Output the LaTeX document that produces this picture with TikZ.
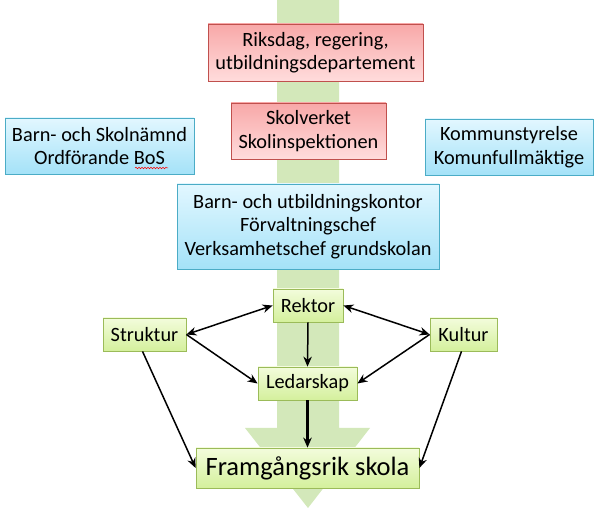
\documentclass[tikz,border=0pt]{standalone}
\usepackage{fontspec}
\setmainfont{Carlito}
\usetikzlibrary{arrows.meta,shadows,decorations.pathmorphing}
\definecolor{redborder}{HTML}{C0504D}
\definecolor{redtop}{HTML}{F8A8A8}
\definecolor{redbot}{HTML}{FFDCDC}
\definecolor{blueborder}{HTML}{4BACC6}
\definecolor{bluetop}{HTML}{E2F7FF}
\definecolor{bluebot}{HTML}{A4E2F8}
\definecolor{greenborder}{HTML}{9BBB59}
\definecolor{greentop}{HTML}{F3FCDC}
\definecolor{greenbot}{HTML}{D4F09C}
\definecolor{bigarrow}{HTML}{D3E8BA}
\tikzset{
  box/.style={draw, line width=0.8pt, inner sep=2pt, align=center,
    font=\fontsize{20.3}{23.5}\selectfont,
    drop shadow={opacity=0.3, shadow xshift=1.2pt, shadow yshift=-1.5pt}},
  redbox/.style={box, draw=redborder, top color=redtop, bottom color=redbot},
  bluebox/.style={box, draw=blueborder, top color=bluetop, bottom color=bluebot},
  greenbox/.style={box, draw=greenborder, top color=greentop, bottom color=greenbot},
  conn/.style={line width=1.5pt, -{Stealth[length=10pt,width=8.5pt]}},
  biconn/.style={line width=1.5pt, {Stealth[length=10pt,width=8.5pt]}-{Stealth[length=10pt,width=8.5pt]}}
}
\begin{document}
\begin{tikzpicture}[x=1pt,y=-1pt]
\useasboundingbox (0,0) rectangle (598,518);
% big green arrow
\fill[bigarrow] (277,0) -- (339,0) -- (339,428) -- (370,428) -- (308,508) -- (245,428) -- (277,428) -- cycle;

\node[redbox, minimum width=215pt, minimum height=57pt] (riks) at (315.5,52.5) {Riksdag, regering,\\utbildningsdepartement};
\node[redbox, minimum width=155pt, minimum height=56pt] (skolv) at (308.5,131) {Skolverket\\Skolinspektionen};
\node[bluebox, minimum width=189pt, minimum height=56pt] (bos) at (99.5,146) {Barn- och Skolnämnd\\Ordförande BoS};
\node[bluebox, minimum width=168pt, minimum height=56pt] (kommun) at (509,147) {Kommunstyrelse\\Komunfullmäktige};
\node[bluebox, minimum width=262pt, minimum height=85pt] (kontor) at (308,226.5) {Barn- och utbildningskontor\\Förvaltningschef\\Verksamhetschef grundskolan};

\node[greenbox, minimum width=70pt, minimum height=33pt] (rektor) at (308,305.5) {Rektor};
\node[greenbox, minimum width=83pt, minimum height=33pt] (struktur) at (144.5,334.5) {Struktur};
\node[greenbox, minimum width=67pt, minimum height=33pt] (kultur) at (463.5,334.5) {Kultur};
\node[greenbox, minimum width=99pt, minimum height=33pt] (ledar) at (307.5,383.5) {Ledarskap};
\node[greenbox, minimum width=223pt, minimum height=40pt, font=\fontsize{26.5}{31}\selectfont] (fram) at (307.5,468) {Framgångsrik skola};

% spell-check underline
\draw[red, line width=0.5pt, decorate, decoration={snake, amplitude=0.8pt, segment length=3pt}] (135,168) -- (168,168);

\draw[biconn] (struktur.east) -- (rektor.west);
\draw[biconn] (kultur.west) -- (rektor.east);
\draw[conn] (rektor.south) -- (ledar.north);
\draw[conn] (struktur.east) -- (ledar.west);
\draw[conn] (kultur.west) -- (ledar.east);
\draw[conn, line width=2.3pt] (ledar.south) -- (fram.north);
\draw[conn] ([xshift=-2pt]struktur.south) -- (fram.west);
\draw[conn] ([xshift=-2pt]kultur.south) -- (fram.east);
\end{tikzpicture}
\end{document}
